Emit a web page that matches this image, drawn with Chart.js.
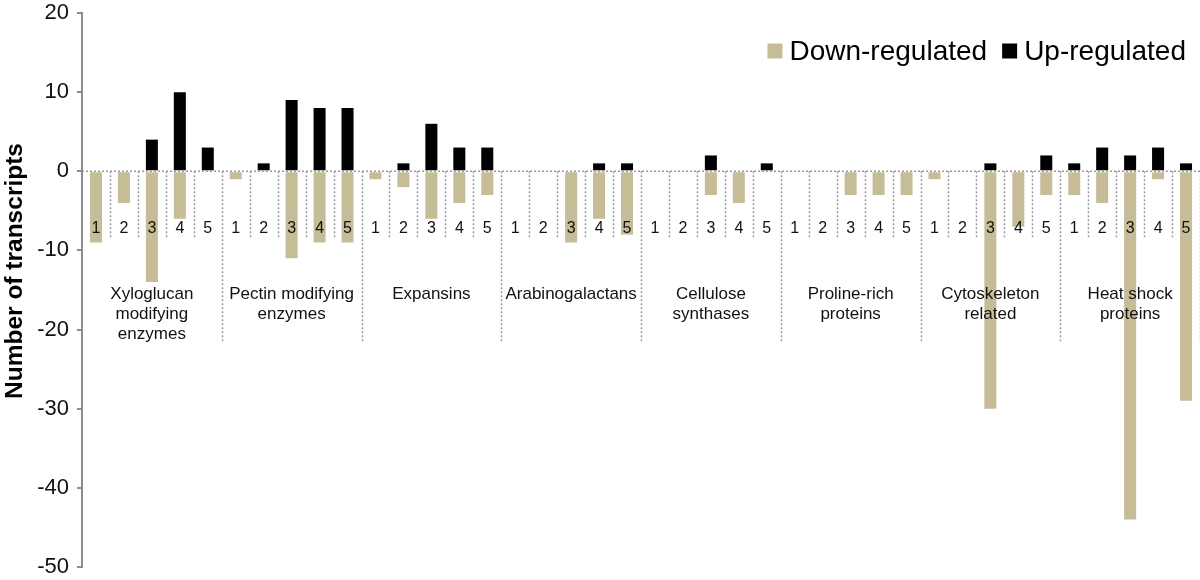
<!DOCTYPE html>
<html lang="en">
<head>
    <meta charset="UTF-8">
    <title>Number of transcripts</title>
    <script src="https://cdn.jsdelivr.net/npm/chart.js"></script>
    <style>
        body {
            margin: 0;
            background: #fff;
        }
        #wrap {
            width: 1200px;
            height: 580px;
        }
    </style>
</head>
<body>
    <div id="wrap">
        <canvas id="transcriptChart" width="1200" height="580"></canvas>
    </div>

    <script>
        // groups of 5 numbered columns each
        const groupNames = [
            ['Xyloglucan', 'modifying', 'enzymes'],
            ['Pectin modifying', 'enzymes'],
            ['Expansins'],
            ['Arabinogalactans'],
            ['Cellulose', 'synthases'],
            ['Proline-rich', 'proteins'],
            ['Cytoskeleton', 'related'],
            ['Heat shock', 'proteins']
        ];
        const subLabels = ['1', '2', '3', '4', '5'];

        const downRegulated = [
            -9, -4, -14, -6, 0,
            -1, 0, -11, -9, -9,
            -1, -2, -6, -4, -3,
            0, 0, -9, -6, -8,
            0, 0, -3, -4, 0,
            0, 0, -3, -3, -3,
            -1, 0, -30, -7, -3,
            -3, -4, -44, -1, -29
        ];
        const upRegulated = [
            0, 0, 4, 10, 3,
            0, 1, 9, 8, 8,
            0, 1, 6, 3, 3,
            0, 0, 0, 1, 1,
            0, 0, 2, 0, 1,
            0, 0, 0, 0, 0,
            0, 0, 1, 0, 2,
            1, 3, 2, 3, 1
        ];

        const yTicks = { min: -50, max: 20, step: 10 };
        const yTitle = 'Number of transcripts';

        const categories = [];
        groupNames.forEach(g => subLabels.forEach(s => categories.push(g[0] + ' ' + s)));

        const fontFamily = '"Liberation Sans", Arial, Helvetica, sans-serif';
        const tan = '#c6bc98';

        // separators, numbers and group names drawn on top of the bars
        const groupLabels = {
            id: 'groupLabels',
            afterDatasetsDraw(chart) {
                const { ctx, chartArea, scales: { x, y } } = chart;
                const slot = x.getPixelForValue(1) - x.getPixelForValue(0);
                const zeroY = y.getPixelForValue(0);
                ctx.save();
                ctx.strokeStyle = '#9a9a9a';
                ctx.lineWidth = 1.5;
                ctx.setLineDash([2, 2]);

                ctx.beginPath();
                ctx.moveTo(chartArea.left, zeroY);
                ctx.lineTo(chartArea.right, zeroY);
                ctx.stroke();

                for (let i = 1; i <= categories.length; i++) {
                    const sx = Math.round(x.getPixelForValue(i - 1) + slot / 2) + 0.5;
                    const bottom = i % 5 === 0 ? y.getPixelForValue(-21.7) : y.getPixelForValue(-8.5);
                    ctx.beginPath();
                    ctx.moveTo(sx, zeroY);
                    ctx.lineTo(sx, bottom);
                    ctx.stroke();
                }
                ctx.setLineDash([]);

                ctx.fillStyle = '#111';
                ctx.textAlign = 'center';
                ctx.textBaseline = 'middle';
                ctx.font = '16px ' + fontFamily;
                const numY = y.getPixelForValue(-7.2);
                categories.forEach((c, i) => {
                    ctx.fillText(subLabels[i % 5], x.getPixelForValue(i), numY);
                });

                ctx.font = '17px ' + fontFamily;
                const nameY = y.getPixelForValue(-15.5);
                groupNames.forEach((lines, g) => {
                    const cx = (x.getPixelForValue(g * 5) + x.getPixelForValue(g * 5 + 4)) / 2;
                    lines.forEach((t, k) => ctx.fillText(t, cx, nameY + k * 20));
                });
                ctx.restore();
            },
            afterDraw(chart) {
                const { ctx } = chart;
                ctx.save();

                // y axis title, a bit above the middle like the original
                ctx.font = 'bold 24.5px ' + fontFamily;
                ctx.fillStyle = '#000';
                ctx.textAlign = 'center';
                ctx.textBaseline = 'middle';
                ctx.translate(15, 271);
                ctx.rotate(-Math.PI / 2);
                ctx.fillText(yTitle, 0, 0);
                ctx.setTransform(1, 0, 0, 1, 0, 0);

                // legend, right aligned at the top of the plot
                ctx.font = '28px ' + fontFamily;
                ctx.textAlign = 'left';
                const items = chart.data.datasets.map(d => ({ text: d.label, color: d.backgroundColor }));
                const box = 15, gap = 7, between = 15, cy = 51;
                let right = 1186;
                const placed = [];
                for (let i = items.length - 1; i >= 0; i--) {
                    const w = ctx.measureText(items[i].text).width;
                    const textX = right - w;
                    const boxX = textX - gap - box;
                    placed.push({ ...items[i], textX, boxX });
                    right = boxX - between;
                }
                placed.forEach(p => {
                    ctx.fillStyle = p.color;
                    ctx.fillRect(p.boxX, cy - box / 2, box, box);
                    ctx.fillStyle = '#000';
                    ctx.fillText(p.text, p.textX, cy + 1);
                });
                ctx.restore();
            }
        };

        const ctx = document.getElementById('transcriptChart').getContext('2d');
        const chart = new Chart(ctx, {
            type: 'bar',
            data: {
                labels: categories,
                datasets: [
                    {
                        label: 'Down-regulated',
                        data: downRegulated,
                        backgroundColor: tan,
                        barPercentage: 0.43,
                        categoryPercentage: 1
                    },
                    {
                        label: 'Up-regulated',
                        data: upRegulated,
                        backgroundColor: '#000000',
                        barPercentage: 0.43,
                        categoryPercentage: 1
                    }
                ]
            },
            options: {
                responsive: false,
                animation: false,
                layout: { padding: 0 },
                plugins: {
                    legend: { display: false },
                    tooltip: { enabled: false }
                },
                scales: {
                    x: {
                        stacked: true,
                        display: false
                    },
                    y: {
                        stacked: true,
                        min: yTicks.min,
                        max: yTicks.max,
                        ticks: {
                            stepSize: yTicks.step,
                            color: '#111',
                            padding: 8,
                            font: { size: 22, family: fontFamily }
                        },
                        grid: {
                            drawOnChartArea: false,
                            drawTicks: true,
                            tickLength: 5,
                            color: '#8c8c8c',
                            lineWidth: 2
                        },
                        border: { color: '#8c8c8c', width: 2 },
                        afterFit(scale) {
                            scale.width = 82;
                            scale.paddingTop = 13;
                            scale.paddingBottom = 13;
                        }
                    }
                }
            },
            plugins: [groupLabels]
        });
    </script>
</body>
</html>
